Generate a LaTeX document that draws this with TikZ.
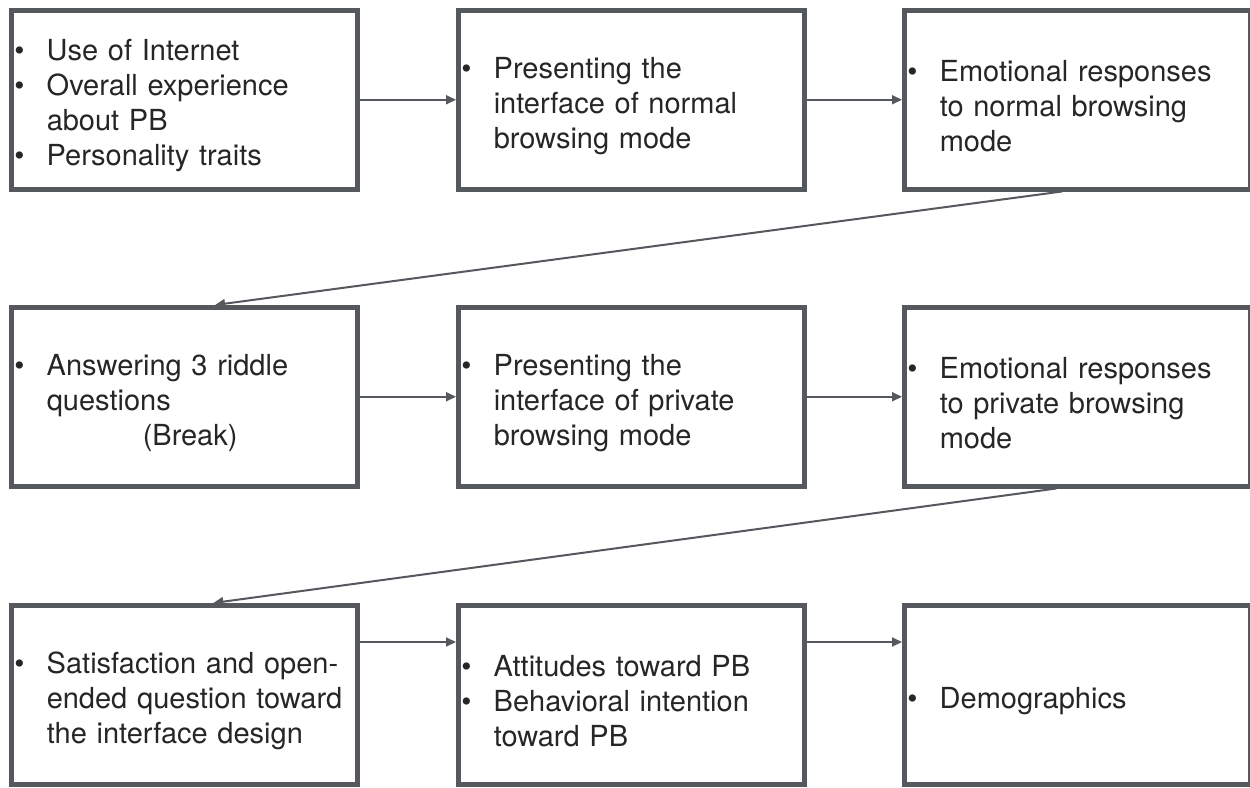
\documentclass[tikz,border=0pt]{standalone}
\usepackage{fontspec}
\setmainfont{TeX Gyre Heros}
\usetikzlibrary{arrows.meta,calc}
\definecolor{edge}{HTML}{55585D}
\definecolor{ink}{HTML}{262626}
% bulleted first line and indented continuation line
\newcommand{\bl}[1]{\noindent\makebox[32.5pt][l]{\textbullet}#1\par}
\newcommand{\cl}[1]{\noindent\hspace*{32.5pt}#1\par}
\begin{document}
\begin{tikzpicture}[x=1pt,y=1pt,
  stage/.style={draw=edge, line width=4.5pt, rectangle, anchor=north west,
    minimum width=346pt, minimum height=179pt, inner xsep=3pt, inner ysep=0pt,
    text width=340pt, align=left, text=ink, font=\fontsize{29}{35}\selectfont,
    execute at begin node={\rule{0pt}{33pt}}},
  flow/.style={draw=edge, line width=2pt, -{Triangle[length=10pt,width=9pt]}}]
\useasboundingbox (0,0) rectangle (1250,-787);

% first row
\node[stage] (b11) at (9,-8) {\bl{Use of Internet}\bl{Overall experience}\cl{about PB}\bl{Personality traits}};
\node[stage] (b12) at (456,-8) {\bl{Presenting the}\cl{interface of normal}\cl{browsing mode}};
\node[stage] (b13) at (902,-8) {\bl{Emotional responses}\cl{to normal browsing}\cl{mode}};

% second row
\node[stage] (b21) at (9,-305) {\bl{Answering 3 riddle}\cl{questions}\cl{\hspace*{96pt}(Break)}};
\node[stage] (b22) at (456,-305) {\bl{Presenting the}\cl{interface of private}\cl{browsing mode}};
\node[stage] (b23) at (902,-305) {\bl{Emotional responses}\cl{to private browsing}\cl{mode}};

% third row
\node[stage] (b31) at (9,-603) {\bl{Satisfaction and open-}\cl{ended question toward}\cl{the interface design}};
\node[stage] (b32) at (456,-603) {\bl{Attitudes toward PB}\bl{Behavioral intention}\cl{toward PB}};
\node[stage] (b33) at (902,-603) {\bl{Demographics}};

% connectors
\draw[flow] (b11.east) -- (b12.west);
\draw[flow] (b12.east) -- (b13.west);
\draw[flow] ($(b13.south west)!0.456!(b13.south east)$) -- ($(b21.north west)!0.588!(b21.north east)$);
\draw[flow] (b21.east) -- (b22.west);
\draw[flow] (b22.east) -- (b23.west);
\draw[flow] ($(b23.south west)!0.44!(b23.south east)$) -- ($(b31.north west)!0.583!(b31.north east)$);
\draw[flow] ([yshift=-39pt]b31.north east) -- ([yshift=-39pt]b32.north west);
\draw[flow] ([yshift=-39pt]b32.north east) -- ([yshift=-39pt]b33.north west);
\end{tikzpicture}
\end{document}
